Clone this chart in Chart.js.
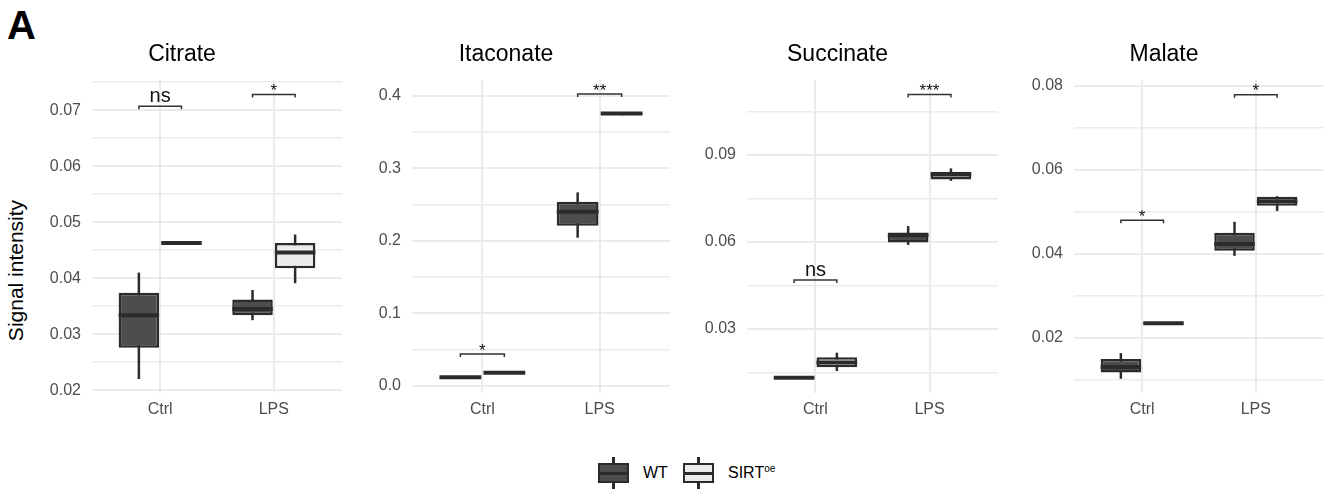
<!DOCTYPE html>
<html>
<head>
<meta charset="utf-8">
<script src="https://cdn.jsdelivr.net/npm/chart.js@4.4.1/dist/chart.umd.min.js"></script>
<style>
  html, body { margin: 0; padding: 0; background: #fff; }
  body { width: 1329px; height: 491px; overflow: hidden; position: relative;
         font-family: "Liberation Sans", Arial, Helvetica, sans-serif; }
  canvas { position: absolute; top: 0; }
  #tag { position: absolute; left: 7px; top: 5px; font-size: 40px; line-height: 40px; font-weight: bold; color: #000; }
  #ytitle { position: absolute; width: 220px; height: 21px; left: -95px; top: 259.5px; font-size: 21px; line-height: 21px;
            text-align: center; color: #000; transform: rotate(-90deg); transform-origin: 110px 10.5px; white-space: nowrap; }
  .glyph { position: absolute; top: 457px; width: 31px; height: 32px; }
  .glyph .wh { position: absolute; left: 14.25px; top: 0; width: 2.5px; height: 32px; background: #2b2b2b; }
  .glyph .bx { position: absolute; left: 0; top: 6px; width: 31px; height: 20px; box-sizing: border-box; border: 2.5px solid #2b2b2b; }
  .glyph .md { position: absolute; left: 0; top: 14.5px; width: 31px; height: 3px; background: #2b2b2b; }
  .ltxt { position: absolute; top: 465px; font-size: 16px; line-height: 16px; color: #000; white-space: nowrap; }
  .ltxt sup { font-size: 10px; vertical-align: 6px; line-height: 0; }
</style>
</head>
<body>
<div id="tag">A</div>
<div id="ytitle">Signal intensity</div>
<div class="glyph" style="left:598px"><span class="wh"></span><span class="bx" style="background:#4d4d4d"></span><span class="md"></span></div>
<div class="ltxt" style="left:643px">WT</div>
<div class="glyph" style="left:683px"><span class="wh"></span><span class="bx" style="background:#ebebeb"></span><span class="md"></span></div>
<div class="ltxt" style="left:728px">SIRT<sup>oe</sup></div>
<script>
// ---------------- data ----------------
const categories = ['Ctrl', 'LPS'];
const groupNames = ['WT', 'SIRToe'];
const metabolites = ['Citrate', 'Itaconate', 'Succinate', 'Malate'];

// box statistics per category (Ctrl, LPS): [lower whisker, Q1, median, Q3, upper whisker]
const citrateWT     = [[0.0220, 0.0276, 0.0334, 0.0374, 0.0410], [0.0325, 0.0334, 0.0345, 0.0362, 0.0379]];
const citrateSIRT   = [[0.0462, 0.0462, 0.0463, 0.0464, 0.0464], [0.0391, 0.0418, 0.0446, 0.0463, 0.0478]];
const itaconateWT   = [[0.0112, 0.0115, 0.0120, 0.0125, 0.0128], [0.2043, 0.2208, 0.2401, 0.2539, 0.2668]];
const itaconateSIRT = [[0.0178, 0.0180, 0.0183, 0.0186, 0.0188], [0.3730, 0.3748, 0.3756, 0.3764, 0.3770]];
const succinateWT   = [[0.0130, 0.0131, 0.0132, 0.0133, 0.0134], [0.0590, 0.0598, 0.0623, 0.0633, 0.0655]];
const succinateSIRT = [[0.0155, 0.0168, 0.0184, 0.0202, 0.0218], [0.0811, 0.0816, 0.0833, 0.0842, 0.0854]];
const malateWT      = [[0.0102, 0.0117, 0.0130, 0.0149, 0.0163], [0.0395, 0.0407, 0.0423, 0.0450, 0.0476]];
const malateSIRT    = [[0.0233, 0.0233, 0.0234, 0.0235, 0.0235], [0.0502, 0.0514, 0.0525, 0.0536, 0.0537]];

// significance brackets per category: [bracket height, label]
const citrateSig   = [[0.0707, 'ns'], [0.0728, '*']];
const itaconateSig = [[0.0441, '*'],  [0.4022, '**']];
const succinateSig = [[0.0469, 'ns'], [0.1109, '***']];
const malateSig    = [[0.0480, '*'],  [0.0779, '*']];

// y axes: major ticks, their labels, and visible range
const citrateTicks   = [0.02, 0.03, 0.04, 0.05, 0.06, 0.07];
const citrateLabels  = ['0.02', '0.03', '0.04', '0.05', '0.06', '0.07'];
const citrateRange   = [0.0195, 0.0754];
const itaconateTicks  = [0.0, 0.1, 0.2, 0.3, 0.4];
const itaconateLabels = ['0.0', '0.1', '0.2', '0.3', '0.4'];
const itaconateRange  = [-0.0096, 0.4216];
const succinateTicks  = [0.03, 0.06, 0.09];
const succinateLabels = ['0.03', '0.06', '0.09'];
const succinateRange  = [0.0079, 0.1159];
const malateTicks   = [0.02, 0.04, 0.06, 0.08];
const malateLabels  = ['0.02', '0.04', '0.06', '0.08'];
const malateRange   = [0.0068, 0.0814];

// ---------------- chart construction ----------------
Chart.defaults.font.family = '"Liberation Sans", Arial, Helvetica, sans-serif';
Chart.defaults.animation = false;

const panels = [
  { title: metabolites[0], wt: citrateWT,   sirt: citrateSIRT,   sig: citrateSig,   ticks: citrateTicks,   labels: citrateLabels,   range: citrateRange },
  { title: metabolites[1], wt: itaconateWT, sirt: itaconateSIRT, sig: itaconateSig, ticks: itaconateTicks, labels: itaconateLabels, range: itaconateRange },
  { title: metabolites[2], wt: succinateWT, sirt: succinateSIRT, sig: succinateSig, ticks: succinateTicks, labels: succinateLabels, range: succinateRange },
  { title: metabolites[3], wt: malateWT,    sirt: malateSIRT,    sig: malateSig,    ticks: malateTicks,    labels: malateLabels,    range: malateRange }
];
// plot-area horizontal extents (px) of each facet
const frames = [[92, 342], [412, 670], [747, 998], [1074, 1324]];

const INK = '#2b2b2b';
const GRID = '#ebebeb';

const boxParts = {
  id: 'boxParts',
  beforeDatasetsDraw(chart) {
    const ctx = chart.ctx, y = chart.scales.y;
    ctx.save();
    ctx.strokeStyle = INK; ctx.lineWidth = 2.5; ctx.lineCap = 'butt';
    chart.data.datasets.forEach((ds, d) => {
      chart.getDatasetMeta(d).data.forEach((el, i) => {
        const s = ds.stats[i];
        ctx.beginPath();
        ctx.moveTo(el.x, y.getPixelForValue(s[4]));
        ctx.lineTo(el.x, y.getPixelForValue(s[0]));
        ctx.stroke();
      });
    });
    ctx.restore();
  },
  afterDatasetsDraw(chart, args, opts) {
    const ctx = chart.ctx, y = chart.scales.y;
    ctx.save();
    ctx.strokeStyle = INK; ctx.lineWidth = 4; ctx.lineCap = 'butt';
    chart.data.datasets.forEach((ds, d) => {
      chart.getDatasetMeta(d).data.forEach((el, i) => {
        const s = ds.stats[i], ym = y.getPixelForValue(s[2]);
        ctx.beginPath();
        ctx.moveTo(el.x - el.width / 2, ym);
        ctx.lineTo(el.x + el.width / 2, ym);
        ctx.stroke();
      });
    });
    // significance brackets
    const m0 = chart.getDatasetMeta(0).data, m1 = chart.getDatasetMeta(1).data;
    (opts.sig || []).forEach((sg, i) => {
      const x1 = m0[i].x, x2 = m1[i].x, yb = y.getPixelForValue(sg[0]);
      ctx.strokeStyle = '#333'; ctx.lineWidth = 1.5;
      ctx.beginPath();
      ctx.moveTo(x1, yb + 3); ctx.lineTo(x1, yb); ctx.lineTo(x2, yb); ctx.lineTo(x2, yb + 3);
      ctx.stroke();
      const isNs = sg[1] === 'ns';
      ctx.fillStyle = '#111';
      ctx.font = (isNs ? 20 : 17) + 'px "Liberation Sans", Arial, sans-serif';
      ctx.textAlign = 'center'; ctx.textBaseline = 'alphabetic';
      ctx.fillText(sg[1], (x1 + x2) / 2, isNs ? yb - 4 : yb + 1.5);
    });
    ctx.restore();
  }
};

function gridValues(major, range) {
  const step = major[1] - major[0];
  const out = [];
  for (let k = -1; k <= 2 * major.length; k++) {
    const v = +(major[0] + k * step / 2).toFixed(6);
    if (v >= range[0] && v <= range[1]) out.push(v);
  }
  return out;
}
const majorIndex = (p, v) => p.ticks.findIndex(m => Math.abs(m - v) < 1e-7);

panels.forEach((p, k) => {
  const [pl, pr] = frames[k];
  const axisW = 70, padR = 3, H = 430;
  const left = pl - axisW;
  const W = pr - left + padR;
  const cv = document.createElement('canvas');
  cv.width = W; cv.height = H;
  cv.style.left = left + 'px'; cv.style.width = W + 'px'; cv.style.height = H + 'px';
  document.body.appendChild(cv);

  const mk = (stats, color, name) => ({
    label: name,
    data: categories.map((c, i) => ({ x: i + 1, y: [stats[i][1], stats[i][3]] })),
    stats: stats,
    backgroundColor: color,
    borderColor: INK,
    borderWidth: 2.5,
    borderSkipped: false,
    categoryPercentage: 0.75,
    barPercentage: 0.95
  });

  new Chart(cv, {
    type: 'bar',
    data: { datasets: [mk(p.wt, '#4d4d4d', groupNames[0]), mk(p.sirt, '#ebebeb', groupNames[1])] },
    options: {
      responsive: false,
      devicePixelRatio: 1,
      events: [],
      layout: { padding: { left: 0, right: padR, top: 0, bottom: 0 } },
      plugins: {
        legend: { display: false },
        tooltip: { enabled: false },
        title: { display: true, text: p.title, color: '#000',
                 font: { size: 23, weight: 'normal' }, padding: { top: 40.5, bottom: 11.9 } },
        boxParts: { sig: p.sig }
      },
      scales: {
        x: {
          type: 'linear', min: 0.4, max: 2.6, offset: false,
          afterBuildTicks: (ax) => { ax.ticks = categories.map((c, i) => ({ value: i + 1 })); },
          afterFit: (ax) => { ax.height = 37; },
          ticks: { autoSkip: false, maxRotation: 0, padding: 7, color: '#4d4d4d', font: { size: 16 },
                   callback: (v) => categories[Math.round(v) - 1] },
          grid: { offset: false, color: GRID, lineWidth: 2, drawTicks: false },
          border: { display: false }
        },
        y: {
          type: 'linear', min: p.range[0], max: p.range[1], stacked: false,
          afterBuildTicks: (ax) => { ax.ticks = gridValues(p.ticks, p.range).map(v => ({ value: v })); },
          afterFit: (ax) => { ax.width = axisW; },
          ticks: { autoSkip: false, padding: 11, color: '#4d4d4d', font: { size: 16 },
                   callback: (v) => { const i = majorIndex(p, v); return i >= 0 ? p.labels[i] : ''; } },
          grid: { color: GRID, drawTicks: false,
                  lineWidth: (c) => (c.tick && majorIndex(p, c.tick.value) >= 0) ? 2 : 1.5 },
          border: { display: false }
        }
      }
    },
    plugins: [boxParts]
  });
});
</script>
</body>
</html>
